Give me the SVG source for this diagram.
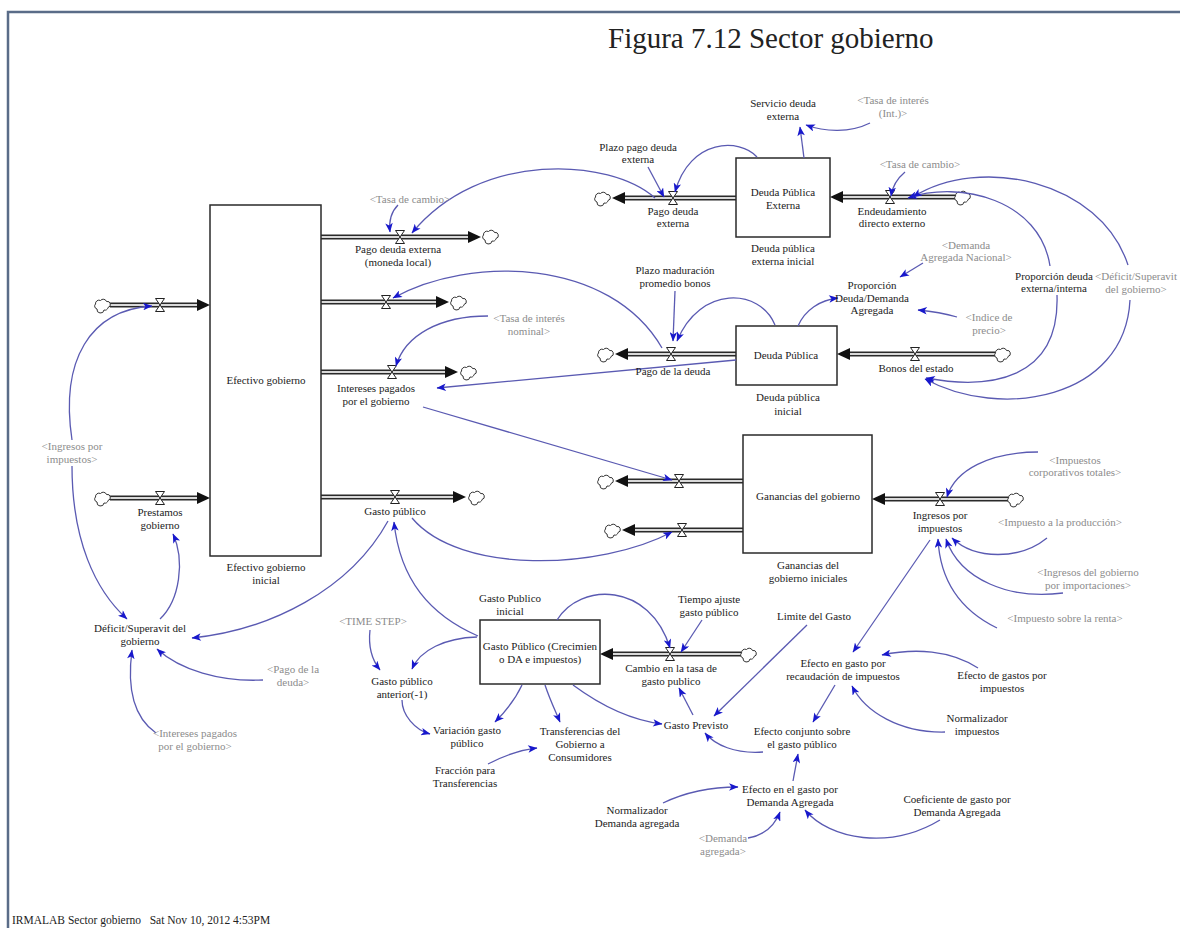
<svg xmlns="http://www.w3.org/2000/svg" xmlns:xlink="http://www.w3.org/1999/xlink" width="1180" height="928" viewBox="0 0 1180 928">
<style>
.t{font-family:"Liberation Serif","Times New Roman",serif;font-size:11px;fill:#1c1c1c;text-anchor:middle}
.g{fill:#8c8c8c}
.stock{fill:#fff;stroke:#2a2a2a;stroke-width:1.5}
.po{stroke:#2a2a2a;stroke-width:5}
.pi{stroke:#d9d9d9;stroke-width:1.8}
.fa{fill:#111}
.lk{fill:none;stroke:#5a5ab2;stroke-width:1.3;marker-end:url(#ah)}
</style>
<defs>
<marker id="ah" viewBox="0 0 10 8" refX="9.5" refY="4" markerWidth="11" markerHeight="7.5" markerUnits="userSpaceOnUse" orient="auto">
<path d="M0,0 L10,4 L0,8 L2.5,4 z" fill="#1818cc"/>
</marker>
<symbol id="cloud" overflow="visible">
<path d="M-5,4 a3,3 0 0 1 -1.5,-5 a3.5,3.5 0 0 1 5,-3.5 a3.5,3.5 0 0 1 6,1 a3,3 0 0 1 1.5,6 a3,3 0 0 1 -4,2.5 a3,3 0 0 1 -7,-1 z" fill="#fff" stroke="#333" stroke-width="1"/>
</symbol>
<symbol id="valve" overflow="visible">
<path d="M-4.5,-6.5 H4.5 L-4.5,6.5 H4.5 Z" fill="#fff" stroke="#222" stroke-width="1"/>
</symbol>
</defs>
<rect width="1180" height="928" fill="#fff"/>
<path d="M8,928 V12 H1180" fill="none" stroke="#5a6c88" stroke-width="2.5"/>
<text x="608" y="48" style="font-family:'Liberation Serif',serif;font-size:29px;fill:#222">Figura 7.12 Sector gobierno</text>
<text x="12" y="924" style="font-family:'Liberation Serif',serif;font-size:11.5px;fill:#222;white-space:pre" xml:space="preserve">IRMALAB Sector gobierno   Sat Nov 10, 2012 4:53PM</text>

<g id="flows">
<g id="flow-pago-deuda-externa-local"><line class="po" x1="321" y1="237" x2="468" y2="237"/><line class="pi" x1="321" y1="237" x2="468" y2="237"/><polygon class="fa" points="468,231 481,237 468,243"/><use xlink:href="#cloud" x="490" y="236"/><use xlink:href="#valve" x="400" y="237"/></g>
<g id="flow-salida2"><line class="po" x1="321" y1="302" x2="436" y2="302"/><line class="pi" x1="321" y1="302" x2="436" y2="302"/><polygon class="fa" points="436,296 449,302 436,308"/><use xlink:href="#cloud" x="458" y="302"/><use xlink:href="#valve" x="386" y="302"/></g>
<g id="flow-intereses"><line class="po" x1="321" y1="372" x2="445" y2="372"/><line class="pi" x1="321" y1="372" x2="445" y2="372"/><polygon class="fa" points="445,366 458,372 445,378"/><use xlink:href="#cloud" x="468" y="372"/><use xlink:href="#valve" x="392" y="372"/></g>
<g id="flow-gasto-publico"><line class="po" x1="321" y1="497" x2="453" y2="497"/><line class="pi" x1="321" y1="497" x2="453" y2="497"/><polygon class="fa" points="453,491 466,497 453,503"/><use xlink:href="#cloud" x="476" y="497"/><use xlink:href="#valve" x="395" y="497"/></g>
<g id="flow-entrada-ingresos"><line class="po" x1="110" y1="305" x2="197" y2="305"/><line class="pi" x1="110" y1="305" x2="197" y2="305"/><polygon class="fa" points="197,299 210,305 197,311"/><use xlink:href="#cloud" x="102" y="305"/><use xlink:href="#valve" x="160" y="305"/></g>
<g id="flow-prestamos"><line class="po" x1="110" y1="498" x2="197" y2="498"/><line class="pi" x1="110" y1="498" x2="197" y2="498"/><polygon class="fa" points="197,492 210,498 197,504"/><use xlink:href="#cloud" x="102" y="498"/><use xlink:href="#valve" x="160" y="498"/></g>
<g id="flow-pago-deuda-externa"><line class="po" x1="736" y1="198" x2="625" y2="198"/><line class="pi" x1="736" y1="198" x2="625" y2="198"/><polygon class="fa" points="625,192 612,198 625,204"/><use xlink:href="#cloud" x="602" y="198"/><use xlink:href="#valve" x="673" y="198"/></g>
<g id="flow-endeudamiento"><line class="po" x1="955" y1="197" x2="843" y2="197"/><line class="pi" x1="955" y1="197" x2="843" y2="197"/><polygon class="fa" points="843,191 830,197 843,203"/><use xlink:href="#cloud" x="962" y="197"/><use xlink:href="#valve" x="890" y="197"/></g>
<g id="flow-pago-deuda"><line class="po" x1="736" y1="354" x2="628" y2="354"/><line class="pi" x1="736" y1="354" x2="628" y2="354"/><polygon class="fa" points="628,348 615,354 628,360"/><use xlink:href="#cloud" x="605" y="354"/><use xlink:href="#valve" x="671" y="354"/></g>
<g id="flow-bonos"><line class="po" x1="995" y1="354" x2="850" y2="354"/><line class="pi" x1="995" y1="354" x2="850" y2="354"/><polygon class="fa" points="850,348 837,354 850,360"/><use xlink:href="#cloud" x="1002" y="354"/><use xlink:href="#valve" x="915" y="354"/></g>
<g id="flow-ganancias1"><line class="po" x1="743" y1="481" x2="628" y2="481"/><line class="pi" x1="743" y1="481" x2="628" y2="481"/><polygon class="fa" points="628,475 615,481 628,487"/><use xlink:href="#cloud" x="605" y="481"/><use xlink:href="#valve" x="679" y="481"/></g>
<g id="flow-ganancias2"><line class="po" x1="743" y1="530" x2="635" y2="530"/><line class="pi" x1="743" y1="530" x2="635" y2="530"/><polygon class="fa" points="635,524 622,530 635,536"/><use xlink:href="#cloud" x="612" y="530"/><use xlink:href="#valve" x="682" y="530"/></g>
<g id="flow-ingresos"><line class="po" x1="1008" y1="499" x2="885" y2="499"/><line class="pi" x1="1008" y1="499" x2="885" y2="499"/><polygon class="fa" points="885,493 872,499 885,505"/><use xlink:href="#cloud" x="1015" y="499"/><use xlink:href="#valve" x="940" y="499"/></g>
<g id="flow-cambio"><line class="po" x1="741" y1="654" x2="613" y2="654"/><line class="pi" x1="741" y1="654" x2="613" y2="654"/><polygon class="fa" points="613,648 600,654 613,660"/><use xlink:href="#cloud" x="748" y="654"/><use xlink:href="#valve" x="670" y="654"/></g>
</g>

<g id="stocks">
<g id="efectivo-gobierno"><rect class="stock" x="210" y="205" width="111" height="351"/><text class="t" x="266" y="384">Efectivo gobierno</text></g>
<g id="deuda-publica-externa"><rect class="stock" x="736" y="158" width="94" height="79"/><text class="t" x="783" y="196">Deuda Pública<tspan x="783" dy="13">Externa</tspan></text></g>
<g id="deuda-publica"><rect class="stock" x="736" y="326" width="101" height="59"/><text class="t" x="786" y="359">Deuda Pública</text></g>
<g id="ganancias-gobierno"><rect class="stock" x="743" y="435" width="129" height="118"/><text class="t" x="808" y="500">Ganancias del gobierno</text></g>
<g id="gasto-publico-stock"><rect class="stock" x="480" y="620" width="120" height="64"/><text class="t" x="540" y="650">Gasto Público (Crecimien<tspan x="540" dy="13">o DA e impuestos)</tspan></text></g>
</g>

<g id="connectors">
<path class="lk" d="M398,205 Q388,215 390,232"/>
<path class="lk" d="M655,198 C610,158 480,150 412,233"/>
<path class="lk" d="M662,348 C610,258 470,255 393,298"/>
<path class="lk" d="M488,316 C440,316 405,335 396,366"/>
<path class="lk" d="M736,360 L437,388"/>
<path class="lk" d="M423,407 L672,480"/>
<path class="lk" d="M412,518 C460,575 600,570 672,532"/>
<path class="lk" d="M478,636 C430,615 400,580 394,522"/>
<path class="lk" d="M388,521 C350,590 270,630 192,638"/>
<path class="lk" d="M72,440 C60,360 90,310 152,306"/>
<path class="lk" d="M72,466 C72,540 95,590 127,619"/>
<path class="lk" d="M160,619 C180,600 185,560 173,534"/>
<path class="lk" d="M263,680 C220,682 180,670 157,649"/>
<path class="lk" d="M156,733 C130,715 128,680 132,650"/>
<path class="lk" d="M804,158 L800,127"/>
<path class="lk" d="M870,123 C850,133 825,132 806,125"/>
<path class="lk" d="M757,157 C740,138 690,138 675,192"/>
<path class="lk" d="M648,167 L664,197"/>
<path class="lk" d="M905,172 Q893,182 891,196"/>
<path class="lk" d="M1050,266 C1040,200 960,180 908,198"/>
<path class="lk" d="M1128,265 C1100,180 980,155 913,197"/>
<path class="lk" d="M1057,295 C1060,380 990,390 926,378"/>
<path class="lk" d="M1130,300 C1125,400 1000,420 925,379"/>
<path class="lk" d="M923,263 L900,277"/>
<path class="lk" d="M957,317 Q940,312 918,310"/>
<path class="lk" d="M798,326 C805,310 820,300 838,298"/>
<path class="lk" d="M775,325 C760,288 700,285 677,341"/>
<path class="lk" d="M675,291 L673,341"/>
<path class="lk" d="M1038,452 C990,452 955,470 947,497"/>
<path class="lk" d="M1047,538 C1020,560 975,560 952,538"/>
<path class="lk" d="M1063,593 C1010,600 960,580 946,539"/>
<path class="lk" d="M997,628 C960,610 940,580 938,539"/>
<path class="lk" d="M930,540 L853,652"/>
<path class="lk" d="M978,668 C950,650 915,648 882,655"/>
<path class="lk" d="M945,732 C900,733 865,712 852,686"/>
<path class="lk" d="M835,685 L813,722"/>
<path class="lk" d="M793,781 L798,754"/>
<path class="lk" d="M940,820 C890,850 830,840 805,810"/>
<path class="lk" d="M663,803 C690,790 715,787 738,787"/>
<path class="lk" d="M748,838 C765,835 775,825 780,812"/>
<path class="lk" d="M763,752 C735,754 715,745 705,733"/>
<path class="lk" d="M807,625 L714,716"/>
<path class="lk" d="M693,715 L679,688"/>
<path class="lk" d="M573,685 C600,705 630,720 662,724"/>
<path class="lk" d="M545,685 C550,700 555,710 560,722"/>
<path class="lk" d="M522,685 C515,700 505,712 495,722"/>
<path class="lk" d="M402,700 C402,715 415,730 430,734"/>
<path class="lk" d="M370,630 C368,648 372,660 380,670"/>
<path class="lk" d="M477,637 C445,638 420,650 412,669"/>
<path class="lk" d="M488,764 C505,755 520,750 537,748"/>
<path class="lk" d="M557,620 C580,582 650,582 670,648"/>
<path class="lk" d="M702,620 L681,652"/>
</g>

<g id="labels">
<g id="efectivo-inicial"><text class="t" x="266" y="571">Efectivo gobierno<tspan x="266" dy="13">inicial</tspan></text></g>
<g id="pago-deuda-externa-local"><text class="t" x="398" y="253">Pago deuda externa<tspan x="398" dy="13">(moneda local)</tspan></text></g>
<g id="tasa-cambio-1"><text class="t g" x="410" y="203">&lt;Tasa de cambio&gt;</text></g>
<g id="intereses-pagados"><text class="t" x="376" y="392">Intereses pagados<tspan x="376" dy="13">por el gobierno</tspan></text></g>
<g id="tasa-interes-nominal"><text class="t g" x="529" y="322">&lt;Tasa de interés<tspan x="529" dy="13">nominal&gt;</tspan></text></g>
<g id="gasto-publico"><text class="t" x="395" y="515">Gasto público</text></g>
<g id="prestamos"><text class="t" x="160" y="516">Prestamos<tspan x="160" dy="13">gobierno</tspan></text></g>
<g id="ingresos-sombra"><text class="t g" x="72" y="450">&lt;Ingresos por<tspan x="72" dy="13">impuestos&gt;</tspan></text></g>
<g id="deficit"><text class="t" x="140" y="632">Déficit/Superavit del<tspan x="140" dy="13">gobierno</tspan></text></g>
<g id="pago-deuda-sombra"><text class="t g" x="293" y="673">&lt;Pago de la<tspan x="293" dy="13">deuda&gt;</tspan></text></g>
<g id="intereses-sombra"><text class="t g" x="195" y="737">&lt;Intereses pagados<tspan x="195" dy="13">por el gobierno&gt;</tspan></text></g>
<g id="servicio-deuda"><text class="t" x="783" y="107">Servicio deuda<tspan x="783" dy="13">externa</tspan></text></g>
<g id="tasa-interes-int"><text class="t g" x="893" y="104">&lt;Tasa de interés<tspan x="893" dy="13">(Int.)&gt;</tspan></text></g>
<g id="plazo-pago"><text class="t" x="638" y="151">Plazo pago deuda<tspan x="638" dy="12">externa</tspan></text></g>
<g id="dpe-inicial"><text class="t" x="783" y="252">Deuda pública<tspan x="783" dy="13">externa inicial</tspan></text></g>
<g id="pago-deuda-externa"><text class="t" x="673" y="215">Pago deuda<tspan x="673" dy="12">externa</tspan></text></g>
<g id="tasa-cambio-2"><text class="t g" x="920" y="168">&lt;Tasa de cambio&gt;</text></g>
<g id="endeudamiento"><text class="t" x="892" y="215">Endeudamiento<tspan x="892" dy="12">directo externo</tspan></text></g>
<g id="demanda-nacional"><text class="t g" x="966" y="249">&lt;Demanda<tspan x="966" dy="12">Agregada Nacional&gt;</tspan></text></g>
<g id="proporcion-deuda-demanda"><text class="t" x="872" y="289">Proporción<tspan x="872" dy="12.5">Deuda/Demanda</tspan><tspan x="872" dy="12.5">Agregada</tspan></text></g>
<g id="indice-precio"><text class="t g" x="989" y="321">&lt;Indice de<tspan x="989" dy="13">precio&gt;</tspan></text></g>
<g id="dp-inicial"><text class="t" x="788" y="401">Deuda pública<tspan x="788" dy="14">inicial</tspan></text></g>
<g id="plazo-maduracion"><text class="t" x="675" y="274">Plazo maduración<tspan x="675" dy="13">promedio bonos</tspan></text></g>
<g id="pago-deuda"><text class="t" x="673" y="375">Pago de la deuda</text></g>
<g id="bonos"><text class="t" x="916" y="372">Bonos del estado</text></g>
<g id="proporcion-ext-int"><text class="t" x="1054" y="280">Proporción deuda<tspan x="1054" dy="12">externa/interna</tspan></text></g>
<g id="deficit-sombra"><text class="t g" x="1136" y="280">&lt;Déficit/Superavit<tspan x="1136" dy="13">del gobierno&gt;</tspan></text></g>
<g id="ganancias-iniciales"><text class="t" x="808" y="569">Ganancias del<tspan x="808" dy="13">gobierno iniciales</tspan></text></g>
<g id="ingresos"><text class="t" x="940" y="519">Ingresos por<tspan x="940" dy="13">impuestos</tspan></text></g>
<g id="imp-corporativos"><text class="t g" x="1075" y="464">&lt;Impuestos<tspan x="1075" dy="12">corporativos totales&gt;</tspan></text></g>
<g id="imp-produccion"><text class="t g" x="1060" y="526">&lt;Impuesto a la producción&gt;</text></g>
<g id="ing-importaciones"><text class="t g" x="1088" y="576">&lt;Ingresos del gobierno<tspan x="1088" dy="13">por importaciones&gt;</tspan></text></g>
<g id="imp-renta"><text class="t g" x="1065" y="622">&lt;Impuesto sobre la renta&gt;</text></g>
<g id="limite-gasto"><text class="t" x="814" y="620">Limite del Gasto</text></g>
<g id="tiempo-ajuste"><text class="t" x="709" y="603">Tiempo ajuste<tspan x="709" dy="13">gasto público</tspan></text></g>
<g id="gasto-inicial"><text class="t" x="510" y="602">Gasto Publico<tspan x="510" dy="13">inicial</tspan></text></g>
<g id="cambio-tasa"><text class="t" x="671" y="672">Cambio en la tasa de<tspan x="671" dy="13">gasto publico</tspan></text></g>
<g id="time-step"><text class="t g" x="373" y="625">&lt;TIME STEP&gt;</text></g>
<g id="gasto-anterior"><text class="t" x="402" y="685">Gasto público<tspan x="402" dy="13">anterior(-1)</tspan></text></g>
<g id="variacion"><text class="t" x="467" y="734">Variación gasto<tspan x="467" dy="13">público</tspan></text></g>
<g id="transferencias"><text class="t" x="580" y="735">Transferencias del<tspan x="580" dy="13">Gobierno a</tspan><tspan x="580" dy="13">Consumidores</tspan></text></g>
<g id="fraccion"><text class="t" x="465" y="774">Fracción para<tspan x="465" dy="13">Transferencias</tspan></text></g>
<g id="gasto-previsto"><text class="t" x="696" y="729">Gasto Previsto</text></g>
<g id="efecto-recaudacion"><text class="t" x="843" y="667">Efecto en gasto por<tspan x="843" dy="13">recaudación de impuestos</tspan></text></g>
<g id="efecto-gastos-impuestos"><text class="t" x="1002" y="679">Efecto de gastos por<tspan x="1002" dy="13">impuestos</tspan></text></g>
<g id="normalizador-impuestos"><text class="t" x="977" y="722">Normalizador<tspan x="977" dy="13">impuestos</tspan></text></g>
<g id="efecto-conjunto"><text class="t" x="802" y="735">Efecto conjunto sobre<tspan x="802" dy="13">el gasto público</tspan></text></g>
<g id="efecto-demanda"><text class="t" x="790" y="793">Efecto en el gasto por<tspan x="790" dy="13">Demanda Agregada</tspan></text></g>
<g id="coeficiente"><text class="t" x="957" y="803">Coeficiente de gasto por<tspan x="957" dy="13">Demanda Agregada</tspan></text></g>
<g id="normalizador-demanda"><text class="t" x="637" y="814">Normalizador<tspan x="637" dy="13">Demanda agregada</tspan></text></g>
<g id="demanda-agregada"><text class="t g" x="723" y="842">&lt;Demanda<tspan x="723" dy="13">agregada&gt;</tspan></text></g>
</g>
</svg>
